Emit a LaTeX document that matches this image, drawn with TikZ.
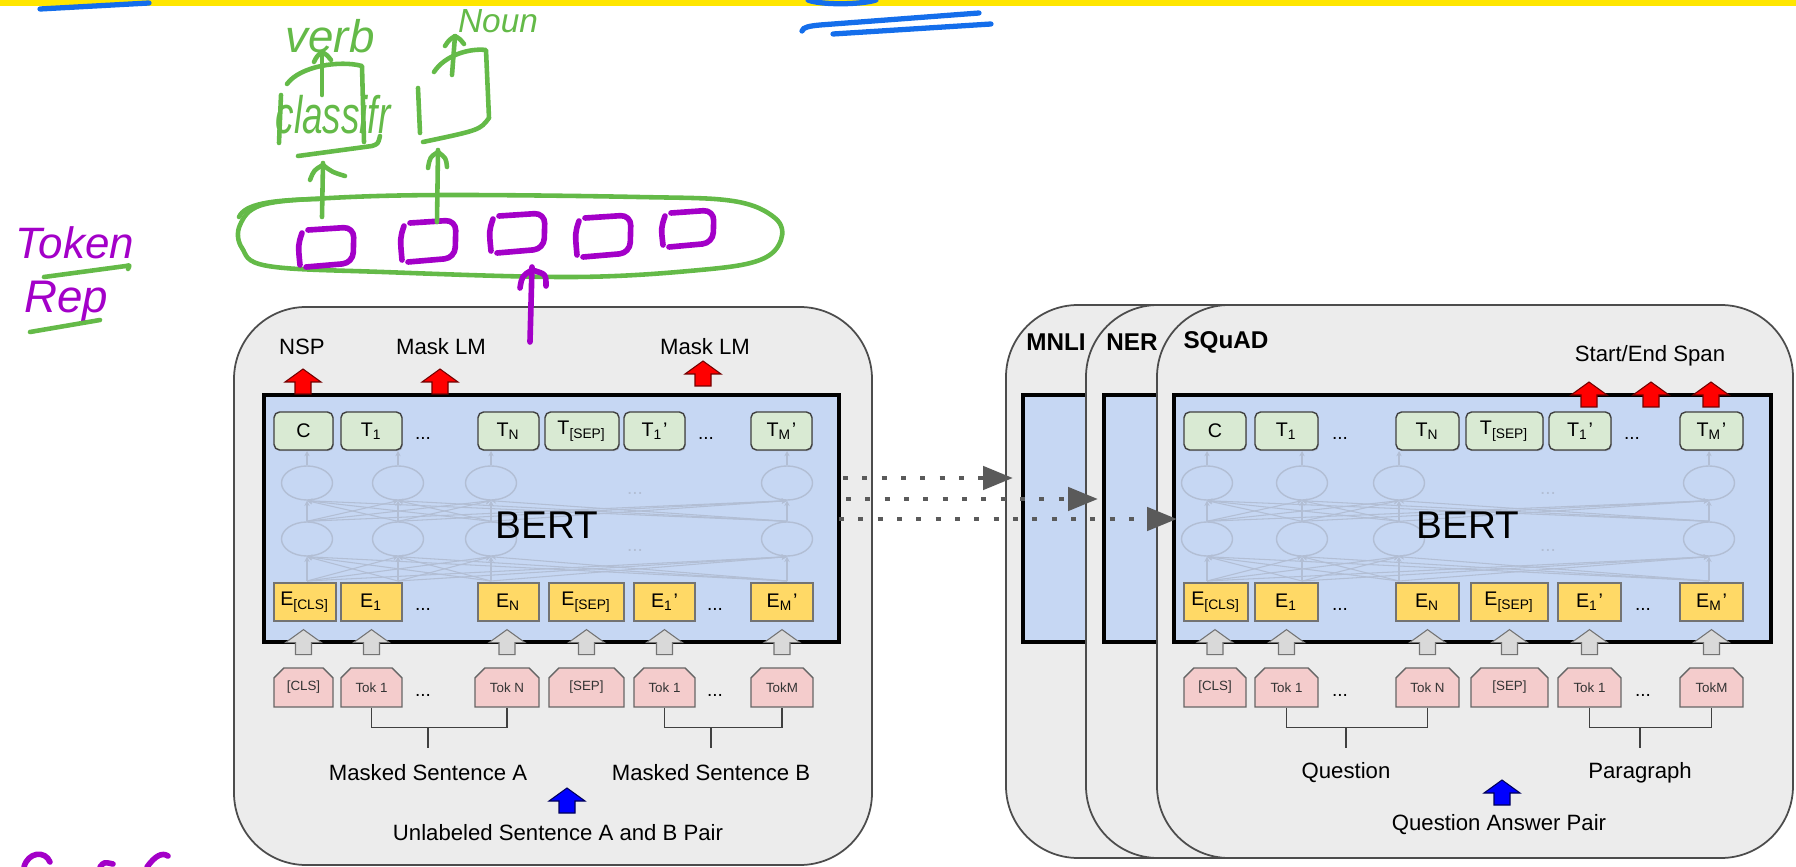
\documentclass[tikz,border=0pt]{standalone}
\usepackage{fontspec}
\usepackage{graphicx}
\setmainfont{Liberation Sans}
\usetikzlibrary{arrows.meta,shapes.misc,shapes.geometric,shadows}

\definecolor{panelgray}{RGB}{236,236,236}
\definecolor{bertblue}{RGB}{198,215,243}
\definecolor{tgreen}{RGB}{217,234,211}
\definecolor{eyellow}{RGB}{255,217,102}
\definecolor{tokpink}{RGB}{244,204,204}
\definecolor{nrngray}{RGB}{178,190,212}
\definecolor{dotgray}{RGB}{90,90,90}
\definecolor{hlyellow}{RGB}{255,230,0}
\definecolor{pengreen}{RGB}{100,186,72}
\definecolor{penpurple}{RGB}{163,0,200}
\definecolor{penblue}{RGB}{20,110,235}

\tikzset{
  panel/.style={draw=black!70, fill=panelgray, rounded corners=0.72cm, line width=0.5pt},
  bertbox/.style={draw=black, fill=bertblue, line width=0.9pt},
  tbox/.style={draw=black!75, fill=tgreen, rounded corners=1.6pt, minimum height=0.38cm, inner sep=0pt,
    font=\fontsize{5.6}{6}\selectfont, drop shadow={shadow xshift=0.25pt, shadow yshift=-0.35pt, opacity=0.35}},
  ebox/.style={draw=black!55, fill=eyellow, minimum height=0.38cm, inner sep=0pt, font=\fontsize{5.6}{6}\selectfont},
  tokbox/.style={chamfered rectangle, chamfered rectangle corners={north west,north east},
    chamfered rectangle xsep=1.4pt, chamfered rectangle ysep=1.4pt, draw=black!60, fill=tokpink,
    minimum height=0.39cm, inner sep=0pt, font=\fontsize{3.8}{4}\selectfont, text=black!80},
  gap/.style={font=\fontsize{5.4}{6}\selectfont},
  lbl/.style={font=\fontsize{6.3}{7}\selectfont},
  tasklbl/.style={font=\fontsize{6.9}{8}\bfseries\selectfont},
  bertlbl/.style={font=\fontsize{11}{12}\selectfont},
  neuron/.style={ellipse, draw=nrngray, minimum width=0.51cm, minimum height=0.34cm, inner sep=0pt},
  nline/.style={draw=nrngray, line width=0.3pt, -{Stealth[length=1.5pt,width=1.5pt]}},
  bracket/.style={draw=black!75, line width=0.4pt},
  dotarrow/.style={dotgray, line width=1.4pt, dash pattern=on 1.4pt off 4.1pt, -{Triangle[length=8.5pt,width=6.5pt]}},
  redarrow/.style={fill=red, draw=red!45!black, line width=0.3pt},
  grayarrow/.style={fill=black!15, draw=black!55, line width=0.3pt},
  bluearrow/.style={fill=blue, draw=blue!35!black, line width=0.3pt},
  greenpen/.style={draw=pengreen, line width=1.3pt, line cap=round, line join=round},
  purplepen/.style={draw=penpurple, line width=1.6pt, line cap=round, line join=round},
  bluepen/.style={draw=penblue, line width=1.5pt, line cap=round},
  blockarrow/.pic={\path[pic actions] (-8,0) -- (-8,-12) -- (-18,-12) -- (0,-25) -- (18,-12) -- (8,-12) -- (8,0) -- cycle;}
}

\begin{document}
\begin{tikzpicture}[x=0.01cm,y=-0.01cm]
  \useasboundingbox (0,0) rectangle (1796,867);
  \fill[hlyellow] (0,0) rectangle (1796,6);

  % pre-training panel
  \draw[panel] (234,307) rectangle (872,865);
  \draw[bertbox] (264,395) rectangle (839,642);
  \foreach \x in {307,398,491,787} {
    \node[neuron] (lup\x) at (\x,483) {};
    \node[neuron] (llo\x) at (\x,539) {};
    \draw[nline] (lup\x.north) -- (\x,451);
  }
  \foreach \a in {307,398,491,787}
    \foreach \b in {307,398,491,787} {
      \draw[nline] (llo\a.north) -- (lup\b.south);
      \draw[nline] (\a,581) -- (llo\b.south);
    }
  \node[gap, text=nrngray] (lfade1) at (635,493) {...};
  \node[gap, text=nrngray] (lfade2) at (635,550) {...};
  \node[bertlbl] (lbert) at (547,525) {BERT};

  \node[tbox, minimum width=0.59cm] (lc) at (303.5,431) {C};
  \node[tbox, minimum width=0.61cm] (lt1) at (371.5,431) {T\textsubscript{1}};
  \node[gap] (ltdots) at (423,438) {...};
  \node[tbox, minimum width=0.61cm] (ltn) at (508.5,431) {T\textsubscript{N}};
  \node[tbox, minimum width=0.74cm] (ltsep) at (582,431) {T\textsubscript{[SEP]}};
  \node[tbox, minimum width=0.61cm] (ltb1) at (654.5,431) {T\textsubscript{1}'};
  \node[gap] (ltdots2) at (706,438) {...};
  \node[tbox, minimum width=0.61cm] (ltbm) at (781.5,431) {T\textsubscript{M}'};

  \node[ebox, minimum width=0.62cm] (lecls) at (305,602) {E\textsubscript{[CLS]}};
  \node[ebox, minimum width=0.61cm] (le1) at (371.5,602) {E\textsubscript{1}};
  \node[gap] (ledots) at (423,609) {...};
  \node[ebox, minimum width=0.61cm] (len) at (508.5,602) {E\textsubscript{N}};
  \node[ebox, minimum width=0.75cm] (lesep) at (586.5,602) {E\textsubscript{[SEP]}};
  \node[ebox, minimum width=0.61cm] (leb1) at (664.5,602) {E\textsubscript{1}'};
  \node[gap] (ledots2) at (715,609) {...};
  \node[ebox, minimum width=0.62cm] (lebm) at (782,602) {E\textsubscript{M}'};

  \node[tokbox, minimum width=0.59cm] (lcls) at (303.5,687.5) {[CLS]};
  \node[tokbox, minimum width=0.61cm] (ltok1) at (371.5,687.5) {Tok 1};
  \node[gap] (ltokdots) at (423,695) {...};
  \node[tokbox, minimum width=0.64cm] (ltokn) at (507,687.5) {Tok N};
  \node[tokbox, minimum width=0.75cm] (lsep) at (586.5,687.5) {[SEP]};
  \node[tokbox, minimum width=0.61cm] (ltokb1) at (664.5,687.5) {Tok 1};
  \node[gap] (ltokdots2) at (715,695) {...};
  \node[tokbox, minimum width=0.62cm] (ltokbm) at (782,687.5) {TokM};
  \foreach \n in {lcls,ltok1,ltokn,lsep,ltokb1,ltokbm}
    \pic[grayarrow] at ([yshift=3.6pt]\n.north) {blockarrow};

  \node[lbl] (lnsp) at (302,347) {NSP};
  \node[lbl] (lmlm1) at (441,347) {Mask LM};
  \node[lbl] (lmlm2) at (705,347) {Mask LM};
  \pic[redarrow] at (303,394) {blockarrow};
  \pic[redarrow] at (440,394) {blockarrow};
  \pic[redarrow] at (703,386) {blockarrow};

  \draw[bracket] (ltok1.south) -- ++(0,20) -| (ltokn.south);
  \draw[bracket] (ltokb1.south) -- ++(0,20) -| (ltokbm.south);
  \coordinate (lstema) at (428,727);
  \coordinate (lstemb) at (711,727);
  \draw[bracket] (lstema) -- ++(0,21);
  \draw[bracket] (lstemb) -- ++(0,21);
  \node[lbl] (lsenta) at (428,773) {Masked Sentence A};
  \node[lbl] (lsentb) at (711,773) {Masked Sentence B};
  \pic[bluearrow] at (567,813) {blockarrow};
  \node[lbl] (lpair) at (558,833) {Unlabeled Sentence A and B Pair};

  % fine-tuning panels
  \draw[panel] (1006,305) rectangle (1642,858);
  \draw[bertbox] (1023,395) rectangle (1659,642);
  \node[tasklbl] (mnli) at (1056,342) {MNLI};
  \draw[panel] (1086,305) rectangle (1722,858);
  \draw[bertbox] (1104,395) rectangle (1740,642);
  \node[tasklbl] (ner) at (1132,342) {NER};
  \draw[panel] (1157,305) rectangle (1793,858);
  \draw[bertbox] (1174,395) rectangle (1771,642);
  \node[tasklbl] (squad) at (1226,342) {SQuAD};

  \foreach \x in {1207,1302,1399,1709} {
    \node[neuron] (rup\x) at (\x,483) {};
    \node[neuron] (rlo\x) at (\x,539) {};
    \draw[nline] (rup\x.north) -- (\x,451);
  }
  \foreach \a in {1207,1302,1399,1709}
    \foreach \b in {1207,1302,1399,1709} {
      \draw[nline] (rlo\a.north) -- (rup\b.south);
      \draw[nline] (\a,581) -- (rlo\b.south);
    }
  \node[gap, text=nrngray] (rfade1) at (1548,493) {...};
  \node[gap, text=nrngray] (rfade2) at (1548,550) {...};
  \node[bertlbl] (rbert) at (1468,525) {BERT};

  \node[tbox, minimum width=0.62cm] (rc) at (1215,431) {C};
  \node[tbox, minimum width=0.63cm] (rt1) at (1286.5,431) {T\textsubscript{1}};
  \node[gap] (rtdots) at (1340,438) {...};
  \node[tbox, minimum width=0.63cm] (rtn) at (1427.5,431) {T\textsubscript{N}};
  \node[tbox, minimum width=0.77cm] (rtsep) at (1504.5,431) {T\textsubscript{[SEP]}};
  \node[tbox, minimum width=0.62cm] (rtb1) at (1580,431) {T\textsubscript{1}'};
  \node[gap] (rtdots2) at (1632,438) {...};
  \node[tbox, minimum width=0.63cm] (rtbm) at (1711.5,431) {T\textsubscript{M}'};

  \node[ebox, minimum width=0.64cm] (recls) at (1216,602) {E\textsubscript{[CLS]}};
  \node[ebox, minimum width=0.63cm] (re1) at (1286.5,602) {E\textsubscript{1}};
  \node[gap] (redots) at (1340,609) {...};
  \node[ebox, minimum width=0.63cm] (ren) at (1427.5,602) {E\textsubscript{N}};
  \node[ebox, minimum width=0.77cm] (resep) at (1509.5,602) {E\textsubscript{[SEP]}};
  \node[ebox, minimum width=0.63cm] (reb1) at (1589.5,602) {E\textsubscript{1}'};
  \node[gap] (redots2) at (1643,609) {...};
  \node[ebox, minimum width=0.63cm] (rebm) at (1711.5,602) {E\textsubscript{M}'};

  \node[tokbox, minimum width=0.62cm] (rcls) at (1215,687.5) {[CLS]};
  \node[tokbox, minimum width=0.63cm] (rtok1) at (1286.5,687.5) {Tok 1};
  \node[gap] (rtokdots) at (1340,695) {...};
  \node[tokbox, minimum width=0.63cm] (rtokn) at (1427.5,687.5) {Tok N};
  \node[tokbox, minimum width=0.77cm] (rsep) at (1509.5,687.5) {[SEP]};
  \node[tokbox, minimum width=0.63cm] (rtokb1) at (1589.5,687.5) {Tok 1};
  \node[gap] (rtokdots2) at (1643,695) {...};
  \node[tokbox, minimum width=0.63cm] (rtokbm) at (1711.5,687.5) {TokM};
  \foreach \n in {rcls,rtok1,rtokn,rsep,rtokb1,rtokbm}
    \pic[grayarrow] at ([yshift=3.6pt]\n.north) {blockarrow};

  \node[lbl] (rspan) at (1650,356) {Start/End Span};
  \pic[redarrow] at (1589,407) {blockarrow};
  \pic[redarrow] at (1651,407) {blockarrow};
  \pic[redarrow] at (1711,407) {blockarrow};

  \draw[bracket] (rtok1.south) -- ++(0,20) -| (rtokn.south);
  \draw[bracket] (rtokb1.south) -- ++(0,20) -| (rtokbm.south);
  \coordinate (rstema) at (1346,727);
  \coordinate (rstemb) at (1640,727);
  \draw[bracket] (rstema) -- ++(0,21);
  \draw[bracket] (rstemb) -- ++(0,21);
  \node[lbl] (rquest) at (1346,773) {Question};
  \node[lbl] (rpara) at (1640,773) {Paragraph};
  \pic[bluearrow] at (1502,805) {blockarrow};
  \node[lbl] (rpair) at (1499,825) {Question Answer Pair};

  % transfer arrows
  \coordinate (d1a) at (843,478);
  \coordinate (d1b) at (1013,478);
  \coordinate (d2a) at (846,499);
  \coordinate (d2b) at (1098,499);
  \coordinate (d3a) at (839,519);
  \coordinate (d3b) at (1177,519);
  \draw[dotarrow] (d1a) -- (d1b);
  \draw[dotarrow] (d2a) -- (d2b);
  \draw[dotarrow] (d3a) -- (d3b);

  % pen notes
  \draw[bluepen] (40,9) -- (149,3);
  \draw[bluepen] (808,0) .. controls (820,5) and (860,5) .. (876,0);
  \draw[bluepen] (802,31) .. controls (803,27) and (810,26) .. (820,25) -- (979,13);
  \draw[bluepen] (833,34) -- (991,24);

  \draw[greenpen] plot[smooth cycle, tension=0.6] coordinates {(262,205) (330,198) (446,195) (638,197) (733,201) (775,218) (781,240) (760,260) (700,270) (574,277) (383,272) (268,266) (242,248) (240,225)};
  \draw[greenpen] (239,217) .. controls (245,204) and (270,200) .. (319,199);
  \foreach \x/\y/\w/\h in {300/227/54/40, 402/220/54/42, 491/213/54/40, 577/215/54/42, 663/210/51/37} {
    \draw[purplepen] (\x+2,\y+6) .. controls (\x-2,\y+18) .. (\x,\y+\h-2);
    \draw[purplepen, rounded corners=3] (\x+8,\y+3) -- (\x+\w,\y) -- (\x+\w-1,\y+\h-4) -- (\x+6,\y+\h);
  }
  \draw[purplepen] (532,267) -- (530,342);
  \draw[purplepen] (520,288) .. controls (522,276) .. (532,270) .. controls (546,274) .. (546,286);

  \draw[greenpen] (322,217) -- (323,163);
  \draw[greenpen] (310,180) .. controls (314,170) .. (323,165) .. controls (332,172) .. (345,176);
  \draw[greenpen] (437,222) -- (438,150);
  \draw[greenpen] (428,168) .. controls (430,157) .. (438,152) .. controls (446,158) .. (447,167);

  \draw[greenpen] (281,95) -- (279,143);
  \draw[greenpen] (287,84) .. controls (300,66) and (340,60) .. (362,66) -- (364,142);
  \draw[greenpen] (298,156) -- (372,146) .. controls (378,144) .. (380,136);
  \node[text=pengreen, font=\fontsize{15}{15}\itshape\selectfont] (clsf) at (333,115) {\scalebox{0.7}[1]{classifr}};
  \draw[greenpen] (322,95) -- (322,52);
  \draw[greenpen] (314,62) .. controls (317,56) .. (322,52) .. controls (327,55) .. (331,60);
  \node[text=pengreen, font=\fontsize{13}{13}\itshape\selectfont] (verb) at (330,36) {verb};

  \draw[greenpen] (418,88) -- (420,133);
  \draw[greenpen] (434,72) .. controls (445,55) and (470,48) .. (486,50) -- (489,118) .. controls (480,130) .. (423,142);
  \draw[greenpen] (452,75) -- (455,36);
  \draw[greenpen] (445,46) .. controls (449,40) .. (455,36) .. controls (460,39) .. (464,44);
  \node[text=pengreen, font=\fontsize{9.5}{10}\itshape\selectfont] (noun) at (498,21) {Noun};

  \node[text=penpurple, font=\fontsize{12.5}{13}\itshape\selectfont] (tokrep1) at (75,243) {Token};
  \node[text=penpurple, font=\fontsize{13}{13}\itshape\selectfont] (tokrep2) at (66,302) {Rep};
  \draw[greenpen] (44,277) -- (126,266) .. controls (130,265) .. (128,269);
  \draw[greenpen] (30,332) -- (100,320);

  \draw[purplepen] (24,867) .. controls (28,852) and (45,850) .. (50,862);
  \draw[purplepen] (100,867) .. controls (104,862) .. (113,864);
  \draw[purplepen] (147,867) .. controls (155,856) and (162,852) .. (168,856);
\end{tikzpicture}
\end{document}
